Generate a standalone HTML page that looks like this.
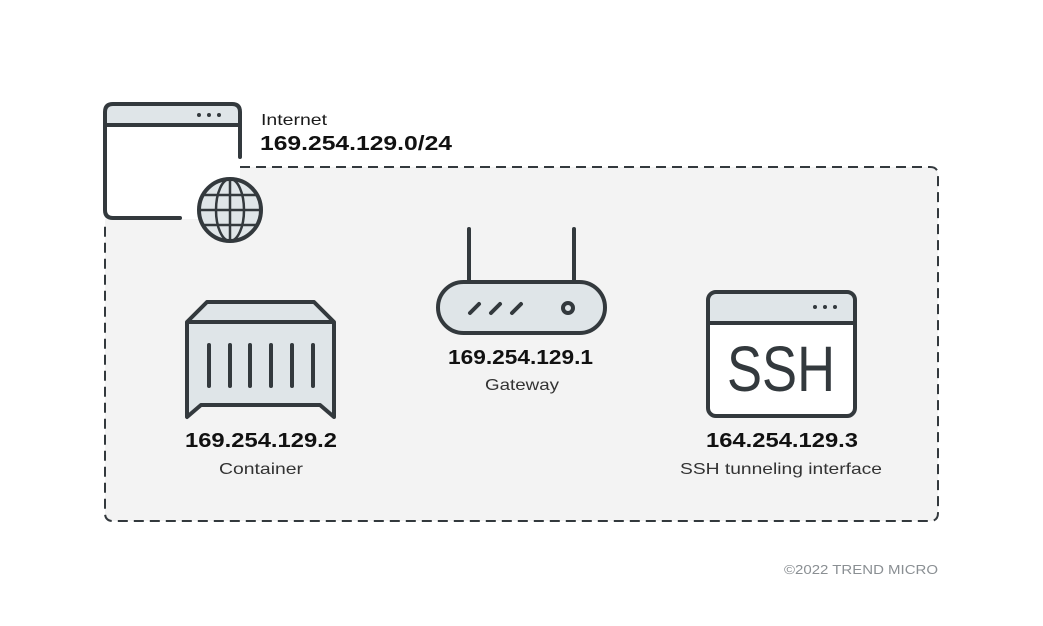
<!DOCTYPE html>
<html><head><meta charset="utf-8"><style>
html,body{margin:0;padding:0;background:#fff;}
svg{display:block;}
text{font-family:"Liberation Sans",sans-serif;}
</style></head><body>
<svg width="1043" height="626" viewBox="0 0 1043 626" xmlns="http://www.w3.org/2000/svg">
<path d="M240,167 L930,167 Q938,167 938,175 L938,513 Q938,521 930,521 L113,521 Q105,521 105,513 L105,219 L240,219 Z" fill="#f3f3f3"/>
<path d="M240,167 L930,167 Q938,167 938,175 L938,513 Q938,521 930,521 L113,521 Q105,521 105,513 L105,221" fill="none" stroke="#33393d" stroke-width="2" stroke-dasharray="10,6"/>
<path d="M105,125 L105,112 Q105,104 113,104 L232,104 Q240,104 240,112 L240,125 Z" fill="#dfe5e8"/>
<path d="M240,157 L240,112 Q240,104 232,104 L113,104 Q105,104 105,112 L105,210 Q105,218 113,218 L180,218" fill="none" stroke="#33393d" stroke-width="4" stroke-linecap="round"/>
<line x1="105" y1="125" x2="240" y2="125" stroke="#33393d" stroke-width="4"/>
<circle cx="199" cy="115" r="2" fill="#33393d"/><circle cx="209" cy="115" r="2" fill="#33393d"/><circle cx="219" cy="115" r="2" fill="#33393d"/>
<circle cx="230" cy="210" r="31" fill="#dfe5e8" stroke="#33393d" stroke-width="4"/>
<ellipse cx="230" cy="210" rx="14" ry="31" fill="none" stroke="#33393d" stroke-width="2.5"/>
<line x1="230" y1="179" x2="230" y2="241" stroke="#33393d" stroke-width="2.5"/>
<line x1="199" y1="210" x2="261" y2="210" stroke="#33393d" stroke-width="2.5"/>
<line x1="203" y1="195" x2="257" y2="195" stroke="#33393d" stroke-width="2.5"/>
<line x1="203" y1="225" x2="257" y2="225" stroke="#33393d" stroke-width="2.5"/>
<text x="261" y="125" font-size="16" fill="#1a1a1a" textLength="66" lengthAdjust="spacingAndGlyphs">Internet</text>
<text x="260" y="150" font-size="20" font-weight="bold" fill="#111" textLength="192" lengthAdjust="spacingAndGlyphs">169.254.129.0/24</text>
<path d="M187,322 L207,302 L314,302 L334,322 L334,417 L320,405 L201,405 L187,417 Z" fill="#dfe5e8" stroke="#33393d" stroke-width="4" stroke-linejoin="round"/>
<line x1="187" y1="322" x2="334" y2="322" stroke="#33393d" stroke-width="4"/>
<g stroke="#33393d" stroke-width="4" stroke-linecap="round">
<line x1="209" y1="345" x2="209" y2="386"/><line x1="230" y1="345" x2="230" y2="386"/><line x1="250" y1="345" x2="250" y2="386"/><line x1="271" y1="345" x2="271" y2="386"/><line x1="292" y1="345" x2="292" y2="386"/><line x1="313" y1="345" x2="313" y2="386"/>
</g>
<text x="185" y="447" font-size="20" font-weight="bold" fill="#111" textLength="152" lengthAdjust="spacingAndGlyphs">169.254.129.2</text>
<text x="219" y="474" font-size="16" fill="#333" textLength="84" lengthAdjust="spacingAndGlyphs">Container</text>
<g stroke="#33393d" stroke-width="4" stroke-linecap="round">
<line x1="469" y1="229" x2="469" y2="282"/><line x1="574" y1="229" x2="574" y2="282"/>
</g>
<rect x="438" y="282" width="167" height="51" rx="25.5" fill="#dfe5e8" stroke="#33393d" stroke-width="4"/>
<g stroke="#33393d" stroke-width="4" stroke-linecap="round">
<line x1="470" y1="313" x2="479" y2="304"/><line x1="491" y1="313" x2="500" y2="304"/><line x1="512" y1="313" x2="521" y2="304"/>
</g>
<circle cx="568" cy="308" r="5" fill="none" stroke="#33393d" stroke-width="4"/>
<text x="448" y="364" font-size="20" font-weight="bold" fill="#111" textLength="145" lengthAdjust="spacingAndGlyphs">169.254.129.1</text>
<text x="485" y="390" font-size="16" fill="#333" textLength="74" lengthAdjust="spacingAndGlyphs">Gateway</text>
<path d="M708,323 L708,300 Q708,292 716,292 L847,292 Q855,292 855,300 L855,323 Z" fill="#dfe5e8"/>
<rect x="710" y="325" width="143" height="89" fill="#fff"/>
<rect x="708" y="292" width="147" height="124" rx="8" fill="none" stroke="#33393d" stroke-width="4"/>
<line x1="708" y1="323" x2="855" y2="323" stroke="#33393d" stroke-width="4"/>
<circle cx="815" cy="307" r="2" fill="#33393d"/><circle cx="825" cy="307" r="2" fill="#33393d"/><circle cx="835" cy="307" r="2" fill="#33393d"/>
<text x="727" y="391" font-size="64" fill="#33393d" textLength="108" lengthAdjust="spacingAndGlyphs">SSH</text>
<text x="706" y="447" font-size="20" font-weight="bold" fill="#111" textLength="152" lengthAdjust="spacingAndGlyphs">164.254.129.3</text>
<text x="680" y="474" font-size="16" fill="#333" textLength="202" lengthAdjust="spacingAndGlyphs">SSH tunneling interface</text>
<text x="784" y="574" font-size="13" fill="#8a8f93" textLength="154" lengthAdjust="spacingAndGlyphs">©2022 TREND MICRO</text>
</svg>
</body></html>
